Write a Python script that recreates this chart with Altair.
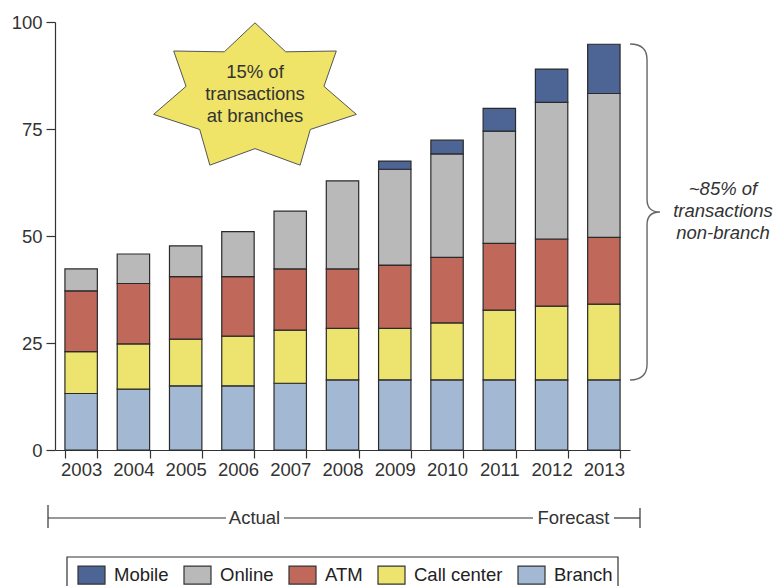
import math
import altair as alt
import pandas as pd

years = ["2003", "2004", "2005", "2006", "2007", "2008", "2009", "2010", "2011", "2012", "2013"]
branch = [13.2, 14.2, 15.0, 15.0, 15.6, 16.4, 16.4, 16.4, 16.4, 16.4, 16.4]
call_center = [9.8, 10.6, 10.9, 11.6, 12.4, 12.0, 12.0, 13.3, 16.3, 17.2, 17.7]
atm = [14.2, 14.1, 14.6, 13.9, 14.3, 13.9, 14.8, 15.3, 15.6, 15.7, 15.6]
online = [5.1, 6.9, 7.2, 10.5, 13.5, 20.6, 22.4, 24.2, 26.2, 31.9, 33.6]
mobile = [0, 0, 0, 0, 0, 0, 1.9, 3.2, 5.3, 7.8, 11.5]

channels = ["Mobile", "Online", "ATM", "Call center", "Branch"]
colors = ["#4d6595", "#b9b9b9", "#c0695a", "#ece46f", "#a2b8d3"]
series = {"Branch": branch, "Call center": call_center, "ATM": atm, "Online": online, "Mobile": mobile}
stack_rank = {"Branch": 0, "Call center": 1, "ATM": 2, "Online": 3, "Mobile": 4}

rows = []
for ch, vals in series.items():
    for y, v in zip(years, vals):
        if v > 0:
            rows.append({"year": y, "channel": ch, "value": v, "rank": stack_rank[ch]})
df = pd.DataFrame(rows)

FONT = "Liberation Sans"
FS = 18.5

# legend rectangle symbol (27x18)
rect_path = "M-1,-0.667H1V0.667H-1Z"

bars = alt.Chart(df).mark_bar(stroke="#2a2a2a", strokeWidth=1.2).encode(
    x=alt.X("year:O", title=None, sort=years,
            scale=alt.Scale(paddingInner=0.38, paddingOuter=0.19),
            axis=alt.Axis(labelAngle=0, tickBand="extent", tickSize=8, labelPadding=2,
                          labelFont=FONT, labelFontSize=FS, labelColor="#333",
                          domainColor="#333", tickColor="#333", domainWidth=1.2, tickWidth=1.2)),
    y=alt.Y("value:Q", title=None, stack="zero",
            scale=alt.Scale(domain=[0, 100], nice=False),
            axis=alt.Axis(values=[0, 25, 50, 75, 100], tickSize=9, labelPadding=4, grid=False,
                          labelFont=FONT, labelFontSize=FS, labelColor="#333",
                          domainColor="#333", tickColor="#333", domainWidth=1.2, tickWidth=1.2)),
    color=alt.Color("channel:N", scale=alt.Scale(domain=channels, range=colors),
                    legend=alt.Legend(orient="none", legendX=22, legendY=538.5, direction="horizontal",
                                      columns=5, title=None, symbolType=rect_path, symbolSize=729,
                                      symbolStrokeColor="#333", symbolStrokeWidth=1.2, symbolOpacity=1,
                                      labelFont=FONT, labelFontSize=FS, labelColor="#222",
                                      labelOffset=8, columnPadding=12, padding=0,
                                      labelLimit=300)),
    order=alt.Order("rank:Q", sort="ascending"),
)

# 7-point star
Rx, Ry, rin = 1.0, 0.72, 0.68
pts = []
for k in range(7):
    a = math.radians(90 - k * 360 / 7)
    pts.append((Rx * math.cos(a), -Ry * math.sin(a)))
    b = math.radians(90 - k * 360 / 7 - 180 / 7)
    pts.append((rin * Rx * math.cos(b), -rin * Ry * math.sin(b)))
star_path = "M" + "L".join(f"{x:.4f},{y:.4f}" for x, y in pts) + "Z"

one = alt.Data(values=[{"a": 1}])

star = alt.Chart(one).mark_point(shape=star_path, filled=True, fill="#efe468", stroke="#555",
                                 strokeWidth=1, opacity=1, size=(2 * 104) ** 2).encode(
    x=alt.value(200), y=alt.value(75.7))

star_text = alt.Chart(one).mark_text(text=["15% of", "transactions", "at branches"], font=FONT,
                                     fontSize=FS, lineHeight=22, color="#333",
                                     align="center", baseline="middle").encode(
    x=alt.value(200), y=alt.value(50))

brace_path = ("M-0.071,-1Q0.030,-1 0.030,-0.905L0.030,-0.075Q0.030,0 0.107,0"
              "Q0.030,0 0.030,0.075L0.030,0.905Q0.030,1 -0.071,1")
brace = alt.Chart(one).mark_point(shape=brace_path, filled=False, stroke="#666", strokeWidth=1.4,
                                  opacity=1, size=(2 * 168) ** 2).encode(
    x=alt.value(587), y=alt.value(190))

brace_text = alt.Chart(one).mark_text(text=["~85% of", "transactions", "non-branch"], font=FONT,
                                      fontSize=FS, fontStyle="italic", lineHeight=22, color="#333",
                                      align="center", baseline="middle").encode(
    x=alt.value(668), y=alt.value(167))

seg_x = [-7, 229, 559, -7, 585]
seg_x2 = [171, 478, 585, -7, 585]
seg_y = [496, 496, 496, 483, 486]
seg_y2 = [496, 496, 496, 506, 506]
segs = pd.DataFrame({"x": seg_x, "x2": seg_x2, "y": seg_y, "y2": seg_y2})
period_rules = alt.Chart(segs).mark_rule(color="#333", strokeWidth=1.2).encode(
    x=alt.X("x:Q", scale=None), x2="x2:Q", y=alt.Y("y:Q", scale=None), y2="y2:Q")

period_labels = pd.DataFrame({"label": ["Actual", "Forecast"], "px": [199.5, 518.5], "py": [496, 496]})
period_text = alt.Chart(period_labels).mark_text(font=FONT, fontSize=FS, color="#333",
                                                 align="center", baseline="middle").encode(
    x=alt.X("px:Q", scale=None), y=alt.Y("py:Q", scale=None), text="label:N")

legend_box = alt.Chart(one).mark_rect(fill=None, stroke="#333", strokeWidth=1.2).encode(
    x=alt.value(12), x2=alt.value(563), y=alt.value(535), y2=alt.value(572))

chart = alt.layer(bars, star, star_text, brace, brace_text, period_rules, period_text,
                  legend_box).resolve_scale(
    x="independent", y="independent"
).properties(
    width=575, height=428,
    autosize=alt.AutoSizeParams(type="none"),
    padding={"left": 47, "top": 14, "right": 146, "bottom": 136},
    background="white",
).configure_view(strokeWidth=0)

chart.save("out.html", embed_options={"renderer": "svg", "actions": False})
